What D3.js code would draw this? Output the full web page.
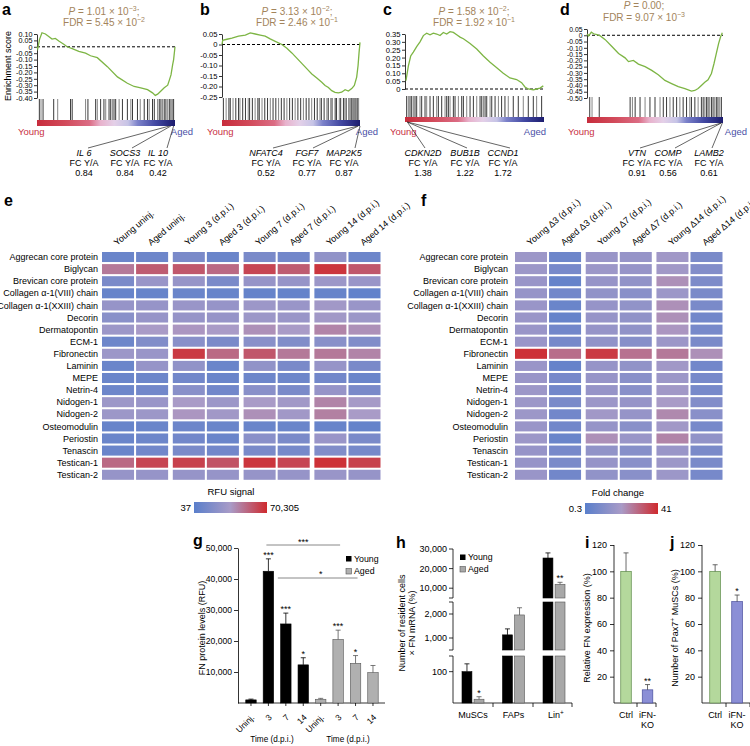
<!DOCTYPE html>
<html><head><meta charset="utf-8">
<script src="https://cdn.jsdelivr.net/npm/d3@7/dist/d3.min.js"></script>
<style>
html,body{margin:0;padding:0;background:#fff;}
svg{display:block;font-family:"Liberation Sans",Arial,Helvetica,sans-serif;}
</style></head><body>
<svg id="fig" width="750" height="746" viewBox="0 0 750 746"></svg>
<script>
// ================= DATA =================
// GSEA running enrichment scores (rank fraction, ES)
const gseaA_rank=[0,0.005,0.019,0.036,0.061,0.085,0.109,0.133,0.158,0.194,0.218,0.255,0.303,0.352,0.388,0.437,0.510,0.583,0.655,0.704,0.752,0.801,0.837,0.857,0.874,0.898,0.922,0.947,0.959,0.971,0.983,0.990,1.0];
const gseaA_es=[0,-0.015,0.06,0.11,0.10,0.08,0.06,0.065,0.045,0.02,0.0,-0.015,-0.035,-0.05,-0.07,-0.085,-0.155,-0.235,-0.285,-0.31,-0.32,-0.335,-0.36,-0.38,-0.37,-0.345,-0.32,-0.30,-0.26,-0.22,-0.14,-0.10,0.0];
const gseaB_rank=[0,0.005,0.036,0.072,0.12,0.169,0.205,0.241,0.277,0.313,0.349,0.386,0.434,0.47,0.506,0.542,0.578,0.614,0.651,0.687,0.723,0.747,0.771,0.795,0.819,0.843,0.867,0.892,0.916,0.94,0.959,0.976,0.986,0.993,1.0];
const gseaB_es=[0,0.02,0.025,0.03,0.04,0.045,0.055,0.05,0.045,0.04,0.027,0.015,0.0,-0.018,-0.04,-0.065,-0.09,-0.115,-0.14,-0.16,-0.18,-0.195,-0.205,-0.22,-0.228,-0.23,-0.227,-0.215,-0.222,-0.21,-0.195,-0.155,-0.1,-0.04,0.01];
const gseaC_rank=[0.007,0.024,0.041,0.06,0.084,0.108,0.132,0.156,0.18,0.204,0.228,0.252,0.276,0.3,0.324,0.348,0.372,0.396,0.42,0.468,0.516,0.564,0.612,0.66,0.707,0.755,0.803,0.839,0.863,0.887,0.923,0.947,0.971,0.995];
const gseaC_es=[0.053,0.145,0.21,0.235,0.27,0.30,0.34,0.355,0.345,0.355,0.35,0.34,0.36,0.35,0.365,0.36,0.345,0.33,0.32,0.29,0.255,0.21,0.17,0.135,0.10,0.07,0.06,0.04,0.013,0.0,-0.005,0.0,0.006,0.02];
const gseaD_rank=[0,0.012,0.032,0.049,0.073,0.098,0.134,0.183,0.232,0.28,0.305,0.341,0.378,0.427,0.476,0.524,0.573,0.622,0.671,0.72,0.768,0.793,0.817,0.841,0.866,0.89,0.915,0.934,0.951,0.968,0.983,0.995];
const gseaD_es=[0.01,-0.005,0.025,0.012,0.005,-0.005,-0.035,-0.09,-0.145,-0.18,-0.21,-0.2,-0.23,-0.25,-0.28,-0.315,-0.36,-0.385,-0.41,-0.425,-0.445,-0.44,-0.425,-0.4,-0.375,-0.355,-0.305,-0.225,-0.145,-0.065,-0.01,0.02];
// gene-set hit positions (rank fraction)
const hitsA=[0.017,0.029,0.044,0.121,0.150,0.243,0.255,0.352,0.369,0.425,0.437,0.461,0.485,0.498,0.522,0.534,0.546,0.558,0.570,0.595,0.619,0.655,0.680,0.692,0.728,0.748,0.777,0.801,0.813,0.837,0.850,0.874,0.886,0.898,0.910,0.922,0.934,0.947,0.959,0.971,0.983,0.990];
const hitsB=[0.01,0.03,0.05,0.06,0.08,0.10,0.12,0.13,0.15,0.17,0.19,0.20,0.22,0.24,0.26,0.27,0.29,0.31,0.33,0.35,0.37,0.39,0.41,0.43,0.45,0.47,0.49,0.51,0.53,0.55,0.57,0.59,0.61,0.63,0.65,0.67,0.69,0.71,0.72,0.74,0.76,0.77,0.79,0.80,0.82,0.83,0.85,0.86,0.88,0.89,0.90,0.92,0.93,0.94,0.95,0.96,0.97,0.98,0.99];
const hitsC=[0.012,0.024,0.036,0.048,0.06,0.072,0.084,0.108,0.12,0.144,0.156,0.18,0.204,0.228,0.24,0.264,0.288,0.3,0.312,0.324,0.348,0.36,0.384,0.408,0.42,0.444,0.468,0.492,0.516,0.54,0.552,0.564,0.576,0.588,0.612,0.624,0.648,0.672,0.695,0.719,0.743,0.779,0.815,0.851,0.887,0.923,0.947,0.983];
const hitsD=[0.02,0.037,0.09,0.317,0.334,0.354,0.39,0.427,0.463,0.5,0.537,0.561,0.585,0.61,0.634,0.659,0.683,0.707,0.732,0.756,0.768,0.793,0.817,0.841,0.854,0.866,0.878,0.89,0.902,0.915,0.927,0.939,0.951,0.963,0.976,0.988];
// leading genes and fold changes Y/A
const genesA=["IL 6","SOCS3","IL 10"], fcA=[0.84,0.84,0.42], gRankA=[0.96,0.97,0.99];
const genesB=["NFATC4","FGF7","MAP2K5"], fcB=[0.52,0.77,0.87], gRankB=[0.983,0.988,1.0];
const genesC=["CDKN2D","BUB1B","CCND1"], fcC=[1.38,1.22,1.72], gRankC=[0.017,0.017,0.017];
const genesD=["VTN","COMP","LAMB2"], fcD=[0.91,0.56,0.61], gRankD=[0.985,0.987,0.995];
// statistics
const statP_mant=["1.01","3.13","1.58","0.00"], statP_exp=[3,2,2,null];
const statFDR_mant=["5.45","2.46","1.92","9.07"], statFDR_exp=[2,1,1,3];

// Heatmaps
const proteins=["Aggrecan core protein","Biglycan","Brevican core protein","Collagen \u03b1-1(VIII) chain","Collagen \u03b1-1(XXIII) chain","Decorin","Dermatopontin","ECM-1","Fibronectin","Laminin","MEPE","Netrin-4","Nidogen-1","Nidogen-2","Osteomodulin","Periostin","Tenascin","Testican-1","Testican-2"];
const colsE=["Young uninj.","Aged uninj.","Young 3 (d.p.i.)","Aged 3 (d.p.i.)","Young 7 (d.p.i.)","Aged 7 (d.p.i.)","Young 14 (d.p.i.)","Aged 14 (d.p.i.)"];
const rfuMatrix=[
[79,91,167,79,167,115,520,91],
[5000,13360,15530,8490,28430,13360,48170,15530],
[167,759,652,167,652,652,881,759],
[68,68,79,68,63,63,68,54],
[652,652,759,652,881,759,1106,759],
[356,652,652,652,881,759,1106,881],
[881,1614,1876,1614,2352,1614,3430,2352],
[91,244,356,167,356,244,356,244],
[881,759,41430,8490,15530,5000,5000,3430],
[79,652,520,79,520,167,652,167],
[79,91,115,79,91,91,115,79],
[91,115,356,115,356,167,652,167],
[881,759,1614,881,1614,1106,3430,1387],
[881,881,1876,1106,2352,1106,3990,1614],
[68,79,91,79,79,79,68,63],
[79,91,115,79,356,167,759,167],
[79,115,167,115,167,144,244,144],
[8490,28430,33040,18070,48170,28430,56070,33040],
[652,652,652,652,652,652,759,652]];
const rfuRange=[37,70305];
const colsF=["Young \u03943 (d.p.i.)","Aged \u03943 (d.p.i.)","Young \u03947 (d.p.i.)","Aged \u03947 (d.p.i.)","Young \u039414 (d.p.i.)","Aged \u039414 (d.p.i.)"];
const foldMatrix=[
[2.37,0.54,2.14,1.95,2.74,0.80],
[2.37,0.73,2.37,1.95,2.74,1.03],
[2.14,0.44,1.95,1.68,4.48,0.89],
[1.95,0.63,1.68,1.31,2.37,0.80],
[2.14,0.49,1.95,1.68,4.48,0.80],
[2.14,0.44,1.95,1.68,4.48,0.63],
[2.14,0.63,1.95,1.68,3.87,0.73],
[2.14,0.73,1.68,1.19,2.37,0.80],
[35.4,9.38,29.1,8.5,7.33,4.48],
[2.14,0.44,1.95,1.68,2.74,0.63],
[2.14,0.73,1.95,1.31,2.37,0.73],
[2.37,0.63,1.95,1.31,2.74,0.73],
[2.37,0.80,2.37,1.95,3.51,1.03],
[2.37,0.63,2.74,1.95,5.2,1.31],
[2.14,0.63,1.95,1.31,2.74,0.73],
[2.37,0.49,4.48,2.14,5.74,1.68],
[1.95,0.73,1.68,1.19,2.14,0.80],
[1.95,0.80,1.95,1.31,2.37,0.80],
[2.14,0.63,1.68,1.31,2.37,0.73]];
const foldRange=[0.3,41];

// Panel g
const gLabels=["Uninj.","3","7","14","Uninj.","3","7","14"];
const gGroup=["Young","Young","Young","Young","Aged","Aged","Aged","Aged"];
const gValues=[1000,42500,25500,12300,1200,20500,12800,9800];
const gErrors=[250,4000,3500,2300,300,3000,2500,2300];
const gSig=["","***","***","*","","***","*",""];
const gTicks=[10000,20000,30000,40000,50000];
// Panel h
const hCats=["MuSCs","FAPs","Lin"];
const hYoung=[100,1130,25400], hYoungErr=[25,250,2600];
const hAged=[12,1960,12000], hAgedErr=[8,300,1000];
const hAgedSig=["*","","**"];
const hTicks=[100,1000,2000,10000,20000,30000];
// Panels i, j
const ijCats=["Ctrl","iFN-KO"];
const iValues=[100,10], iErrors=[14,4], iSig=["","**"];
const jValues=[100,77], jErrors=[5,5], jSig=["","*"];
const ijTicks=[20,40,60,80,100,120];

// ================= DRAW =================
const FONT='"Liberation Sans", Arial, Helvetica, sans-serif';
const svg=d3.select("#fig");
const defs=svg.append("defs");
const statColor="#a3845c", youngCol="#c8303f", agedCol="#4a4fa6";

function styleAxis(sel,fs){
  sel.attr("font-family",FONT).attr("font-size",fs);
  sel.select(".domain").attr("stroke","#000").attr("stroke-width",0.8);
  sel.selectAll(".tick line").attr("stroke","#000").attr("stroke-width",0.8);
  sel.selectAll(".tick text").attr("fill","#000");
}
function panelLabel(t,x,y){svg.append("text").attr("x",x).attr("y",y).attr("font-size",16).attr("font-weight","bold").text(t);}
function star(x,yErrTop,txt){ if(!txt) return; svg.append("text").attr("x",x).attr("y",yErrTop-1).attr("text-anchor","middle").attr("font-size",9).text(txt);}

// ----- GSEA -----
const rg=defs.append("linearGradient").attr("id","rankGrad");
[[0,"#c72c3c"],[0.2,"#d24a5a"],[0.38,"#db6c84"],[0.46,"#e8b2cc"],[0.56,"#e4d0e8"],[0.66,"#c6c4e6"],[0.73,"#7c82ca"],[0.86,"#4248a2"],[1,"#1c1c6e"]]
 .forEach(([o,c])=>rg.append("stop").attr("offset",o).attr("stop-color",c));
const fmtES=v=>Math.abs(v)<1e-9?"0":d3.format(".2f")(v).replace("\u2212","-");

function drawGSEA(L,rank,es,hits,genes,fcs,gRanks,k){
  const x=d3.scaleLinear().domain([0,1]).range([L.x0,L.x1]);
  const y=d3.scaleLinear().domain(L.dom).range([L.y0,L.y1]);
  const tv=d3.range(Math.round(L.dom[0]*100),Math.round(L.dom[1]*100)-1,-5).map(v=>v/100);
  const ax=svg.append("g").attr("transform",`translate(${L.x0},0)`)
    .call(d3.axisLeft(y).tickValues(tv).tickSize(3).tickSizeOuter(0).tickFormat(fmtES).tickPadding(1.5));
  styleAxis(ax,L.fs);
  svg.append("line").attr("x1",L.x0).attr("x2",L.x1).attr("y1",y(0)).attr("y2",y(0))
    .attr("stroke","#000").attr("stroke-width",1).attr("stroke-dasharray","3,2");
  svg.append("path").datum(d3.zip(rank,es)).attr("fill","none").attr("stroke","#7db544").attr("stroke-width",1.3)
    .attr("d",d3.line().x(d=>x(d[0])).y(d=>y(d[1])));
  svg.append("g").selectAll("line").data(hits).join("line")
    .attr("x1",d=>x(d)).attr("x2",d=>x(d)).attr("y1",L.b0).attr("y2",L.b1)
    .attr("stroke",(d,i)=>i%3===1?"#777":"#222").attr("stroke-width",0.9);
  svg.append("rect").attr("x",L.x0).attr("y",L.c0).attr("width",L.x1-L.x0).attr("height",L.c1-L.c0).attr("fill","url(#rankGrad)");
  svg.append("text").attr("x",L.youngX).attr("y",135).attr("font-size",9.5).attr("fill",youngCol).text("Young");
  svg.append("text").attr("x",L.agedX).attr("y",135).attr("font-size",9.5).attr("fill",agedCol).attr("text-anchor","end").text("Aged");
  genes.forEach((gname,i)=>{
    svg.append("line").attr("x1",x(gRanks[i])).attr("y1",L.c1).attr("x2",L.lineEnd[i]).attr("y2",148)
      .attr("stroke","#222").attr("stroke-width",0.7);
    const t=svg.append("text").attr("text-anchor","middle").attr("font-size",9);
    t.append("tspan").attr("x",L.geneX[i]).attr("y",156).attr("font-style","italic").text(gname);
    t.append("tspan").attr("x",L.geneX[i]).attr("y",166).text("FC Y/A");
    t.append("tspan").attr("x",L.geneX[i]).attr("y",176).text(d3.format(".2f")(fcs[i]));
  });
  // stats
  const p=svg.append("text").attr("x",L.pX).attr("y",L.pY).attr("text-anchor","middle").attr("font-size",10).attr("fill",statColor);
  p.append("tspan").attr("font-style","italic").text("P");
  p.append("tspan").text(" = "+statP_mant[k]);
  if(statP_exp[k]!==null){p.append("tspan").text(" \u00d7 10");p.append("tspan").attr("dy",-4).attr("font-size",7).text("\u2212"+statP_exp[k]);p.append("tspan").attr("dy",4).text(";");}
  else p.append("tspan").text(";");
  const f=svg.append("text").attr("x",L.pX).attr("y",L.fY).attr("text-anchor","middle").attr("font-size",10).attr("fill",statColor);
  f.append("tspan").text("FDR = "+statFDR_mant[k]+" \u00d7 10");
  f.append("tspan").attr("dy",-4).attr("font-size",7).text("\u2212"+statFDR_exp[k]);
  panelLabel(L.lab,L.labX,15);
}
drawGSEA({x0:37,x1:175,y0:34,y1:98,dom:[0.10,-0.40],fs:7.2,b0:99,b1:120,c0:120,c1:126,youngX:18,agedX:193,geneX:[84,125,158],lineEnd:[88,132,167],pX:104,pY:15,fY:26,lab:"a",labX:2},gseaA_rank,gseaA_es,hitsA,genesA,fcA,gRankA,0);
drawGSEA({x0:222,x1:360,y0:34,y1:97,dom:[0.05,-0.25],fs:7.6,b0:98,b1:120,c0:120,c1:126,youngX:207,agedX:378,geneX:[266,307,344],lineEnd:[273,313,355],pX:297,pY:15,fY:26,lab:"b",labX:200},gseaB_rank,gseaB_es,hitsB,genesB,fcB,gRankB,1);
drawGSEA({x0:405,x1:544,y0:34,y1:89,dom:[0.35,0],fs:7.6,b0:96,b1:117,c0:117,c1:122,youngX:390,agedX:546,geneX:[423,465,503],lineEnd:[425,467,510],pX:474,pY:15,fY:26,lab:"c",labX:383},gseaC_rank,gseaC_es,hitsC,genesC,fcC,gRankC,2);
drawGSEA({x0:587,x1:723,y0:29,y1:98,dom:[0.05,-0.50],fs:6.8,b0:97,b1:117,c0:117,c1:123,youngX:568,agedX:747,geneX:[637,668,709],lineEnd:[640,675,712],pX:644,pY:9,fY:21,lab:"d",labX:560},gseaD_rank,gseaD_es,hitsD,genesD,fcD,gRankD,3);
svg.append("text").attr("transform","translate(10.5,66) rotate(-90)").attr("text-anchor","middle").attr("font-size",9).text("Enrichment score");

// ----- Heatmaps -----
const heatColors=["#5a7fcb","#a99bc7","#cf2a2e"];
const hg=defs.append("linearGradient").attr("id","heatGrad");
heatColors.forEach((c,i)=>hg.append("stop").attr("offset",i/2).attr("stop-color",c));
function drawHeat(cols,matrix,range,rowLabelX,pairRange,lab,labX,leg){
  const rows=d3.scaleBand().domain(proteins).range([252,479.8]).paddingInner(0.17);
  const nP=cols.length/2;
  const px=d3.scaleBand().domain(d3.range(nP)).range(pairRange).paddingInner(0.066);
  const ix=d3.scaleBand().domain([0,1]).range([0,px.bandwidth()]).paddingInner(0.06);
  const colX=j=>px(Math.floor(j/2))+ix(j%2);
  const color=d3.scaleLog().domain([range[0],Math.sqrt(range[0]*range[1]),range[1]]).range(heatColors).clamp(true);
  const g=svg.append("g");
  proteins.forEach((p,r)=>{
    cols.forEach((c,j)=>{
      g.append("rect").attr("x",colX(j)).attr("y",rows(p)).attr("width",ix.bandwidth()).attr("height",rows.bandwidth())
        .attr("fill",color(matrix[r][j]));
    });
    g.append("text").attr("x",rowLabelX).attr("y",rows(p)+rows.bandwidth()/2).attr("dy","0.35em")
      .attr("text-anchor","end").attr("font-size",9).text(p);
  });
  cols.forEach((c,j)=>{
    const cx=colX(j)+ix.bandwidth()/2-1;
    g.append("text").attr("transform",`translate(${cx},246) rotate(-40)`).attr("font-size",9).text(c);
  });
  panelLabel(lab,labX,206);
  svg.append("text").attr("x",leg.cx).attr("y",leg.ty).attr("text-anchor","middle").attr("font-size",9.5).text(leg.title);
  svg.append("rect").attr("x",leg.x0).attr("y",leg.y0).attr("width",leg.x1-leg.x0).attr("height",11).attr("fill","url(#heatGrad)");
  svg.append("text").attr("x",leg.x0-3).attr("y",leg.y0+9).attr("text-anchor","end").attr("font-size",9.5).text(leg.lo);
  svg.append("text").attr("x",leg.x1+3).attr("y",leg.y0+9).attr("font-size",9.5).text(leg.hi);
}
drawHeat(colsE,rfuMatrix,rfuRange,98,[102,380.5],"e",4,{cx:231,ty:495,title:"RFU signal",x0:194,x1:267,y0:502,lo:d3.format(",")(rfuRange[0]),hi:d3.format(",")(rfuRange[1])});
drawHeat(colsF,foldMatrix,foldRange,508,[515,722.5],"f",421,{cx:618,ty:496,title:"Fold change",x0:585,x1:658,y0:503,lo:String(foldRange[0]),hi:String(foldRange[1])});

// ----- Panel g -----
(function(){
  const y=d3.scaleLinear().domain([0,50000]).range([703,548]);
  const x=d3.scaleBand().domain(d3.range(gValues.length)).range([245.75,378.2]).paddingInner(0.4);
  const ax=svg.append("g").attr("transform","translate(238,0)")
    .call(d3.axisLeft(y).tickValues(gTicks).tickFormat(d3.format(",")).tickSize(4).tickSizeOuter(0).tickPadding(2));
  styleAxis(ax,8.6);
  svg.append("line").attr("x1",238).attr("x2",385).attr("y1",703).attr("y2",703).attr("stroke","#000").attr("stroke-width",0.8);
  gValues.forEach((v,i)=>{
    const cx=x(i)+x.bandwidth()/2, young=gGroup[i]==="Young";
    svg.append("rect").attr("x",x(i)).attr("y",y(v)).attr("width",x.bandwidth()).attr("height",703-y(v))
      .attr("fill",young?"#000":"#b0b0b0").attr("stroke",young?"#000":"#555").attr("stroke-width",0.6);
    const ye=y(v+gErrors[i]);
    svg.append("line").attr("x1",cx).attr("x2",cx).attr("y1",y(v)).attr("y2",ye).attr("stroke",young?"#000":"#555").attr("stroke-width",0.8);
    svg.append("line").attr("x1",cx-2.5).attr("x2",cx+2.5).attr("y1",ye).attr("y2",ye).attr("stroke",young?"#000":"#555").attr("stroke-width",0.8);
    star(cx,ye,gSig[i]);
    svg.append("line").attr("x1",cx).attr("x2",cx).attr("y1",703).attr("y2",706).attr("stroke","#000").attr("stroke-width",0.8);
    svg.append("text").attr("transform",`translate(${cx+4},718) rotate(-45)`).attr("text-anchor","end").attr("font-size",8.5).text(gLabels[i]);
  });
  // brackets
  const c=i=>x(i)+x.bandwidth()/2;
  svg.append("line").attr("x1",c(1)-2).attr("x2",c(5)+2).attr("y1",545).attr("y2",545).attr("stroke","#888").attr("stroke-width",1);
  svg.append("text").attr("x",(c(1)+c(5))/2).attr("y",545).attr("text-anchor","middle").attr("font-size",9).text("***");
  svg.append("line").attr("x1",c(2)-8).attr("x2",c(6)+2).attr("y1",578).attr("y2",578).attr("stroke","#888").attr("stroke-width",1);
  svg.append("text").attr("x",(c(2)+c(6))/2).attr("y",577).attr("text-anchor","middle").attr("font-size",9).text("*");
  // legend
  svg.append("rect").attr("x",346).attr("y",556).attr("width",5.5).attr("height",5.5).attr("fill","#000");
  svg.append("text").attr("x",354).attr("y",561.5).attr("font-size",8.8).text("Young");
  svg.append("rect").attr("x",346).attr("y",568.5).attr("width",5.5).attr("height",5.5).attr("fill","#b0b0b0").attr("stroke","#555").attr("stroke-width",0.6);
  svg.append("text").attr("x",354).attr("y",574).attr("font-size",8.8).text("Aged");
  svg.append("text").attr("transform","translate(205,628) rotate(-90)").attr("text-anchor","middle").attr("font-size",9).text("FN protein levels (RFU)");
  svg.append("text").attr("x",272).attr("y",742).attr("text-anchor","middle").attr("font-size",8.2).text("Time (d.p.i.)");
  svg.append("text").attr("x",348).attr("y",742).attr("text-anchor","middle").attr("font-size",8.2).text("Time (d.p.i.)");
  panelLabel("g",193,546);
})();

// ----- Panel h (broken axis) -----
(function(){
  const segs=[d3.scaleLinear().domain([0,150]).range([703,656]),
              d3.scaleLinear().domain([500,2500]).range([650,602]),
              d3.scaleLinear().domain([5000,30000]).range([598,549])];
  const segOf=v=>v<=150?segs[0]:(v<=2500?segs[1]:segs[2]);
  const gx=d3.scaleBand().domain(hCats).range([462,565]).paddingInner(0.457);
  const ix=d3.scaleBand().domain(["Young","Aged"]).range([0,gx.bandwidth()]).paddingInner(0.18);
  const AX=453;
  segs.forEach(s=>{
    const r=s.range();
    svg.append("line").attr("x1",AX).attr("x2",AX).attr("y1",r[0]).attr("y2",r[1]).attr("stroke","#000").attr("stroke-width",0.8);
    if(r[0]!==703) svg.append("line").attr("x1",AX-4).attr("x2",AX).attr("y1",r[0]).attr("y2",r[0]).attr("stroke","#000").attr("stroke-width",0.8);
    if(r[1]!==549) svg.append("line").attr("x1",AX-4).attr("x2",AX).attr("y1",r[1]).attr("y2",r[1]).attr("stroke","#000").attr("stroke-width",0.8);
  });
  hTicks.forEach(t=>{
    const yy=segOf(t)(t);
    svg.append("line").attr("x1",AX-4).attr("x2",AX).attr("y1",yy).attr("y2",yy).attr("stroke","#000").attr("stroke-width",0.8);
    svg.append("text").attr("x",AX-6).attr("y",yy).attr("dy","0.35em").attr("text-anchor","end").attr("font-size",9).text(d3.format(",")(t));
  });
  svg.append("line").attr("x1",AX).attr("x2",572).attr("y1",703).attr("y2",703).attr("stroke","#000").attr("stroke-width",0.8);
  [493,533,572].forEach(t=>svg.append("line").attr("x1",t).attr("x2",t).attr("y1",703).attr("y2",707).attr("stroke","#000").attr("stroke-width",0.8));
  function bar(x,w,v,err,young,sig){
    segs.forEach(s=>{
      const d=s.domain();
      if(v>d[0]){ const top=s(Math.min(v,d[1])), bot=s.range()[0];
        svg.append("rect").attr("x",x).attr("y",top).attr("width",w).attr("height",bot-top)
          .attr("fill",young?"#000":"#a8a8a8").attr("stroke",young?"#000":"#555").attr("stroke-width",0.6);}
    });
    const s=segOf(v+err), cx=x+w/2, yt=segOf(v)(v), ye=s(v+err);
    svg.append("line").attr("x1",cx).attr("x2",cx).attr("y1",yt).attr("y2",ye).attr("stroke",young?"#000":"#555").attr("stroke-width",0.8);
    svg.append("line").attr("x1",cx-2.5).attr("x2",cx+2.5).attr("y1",ye).attr("y2",ye).attr("stroke",young?"#000":"#555").attr("stroke-width",0.8);
    star(cx,ye,sig);
  }
  hCats.forEach((c,i)=>{
    bar(gx(c)+ix("Young"),ix.bandwidth(),hYoung[i],hYoungErr[i],true,"");
    bar(gx(c)+ix("Aged"),ix.bandwidth(),hAged[i],hAgedErr[i],false,hAgedSig[i]);
    const t=svg.append("text").attr("x",gx(c)+gx.bandwidth()/2+(c==="Lin"?2:0)).attr("y",718).attr("text-anchor","middle").attr("font-size",9);
    t.append("tspan").text(c);
    if(c==="Lin") t.append("tspan").attr("dy",-3.5).attr("font-size",6.5).text("+");
  });
  svg.append("rect").attr("x",460).attr("y",554.5).attr("width",5.5).attr("height",5.5).attr("fill","#000");
  svg.append("text").attr("x",468).attr("y",560).attr("font-size",8.8).text("Young");
  svg.append("rect").attr("x",460).attr("y",566.5).attr("width",5.5).attr("height",5.5).attr("fill","#a8a8a8").attr("stroke","#555").attr("stroke-width",0.6);
  svg.append("text").attr("x",468).attr("y",572).attr("font-size",8.8).text("Aged");
  const yl=svg.append("text").attr("transform","translate(405,623) rotate(-90)").attr("text-anchor","middle").attr("font-size",9);
  yl.append("tspan").attr("x",0).attr("y",0).text("Number of resident cells");
  yl.append("tspan").attr("x",0).attr("y",10).text("\u00d7 FN mRNA (%)");
  panelLabel("h",396,548);
})();

// ----- Panels i, j -----
function drawIJ(AX,xEnd,midTick,rangeX,vals,errs,sig,ylab,lab,labX,ylX,supPlus){
  const y=d3.scaleLinear().domain([0,120]).range([703,545]);
  const x=d3.scaleBand().domain(ijCats).range(rangeX).paddingInner(0.51);
  const ax=svg.append("g").attr("transform",`translate(${AX},0)`)
    .call(d3.axisLeft(y).tickValues(ijTicks).tickSize(4).tickSizeOuter(0));
  styleAxis(ax,9);
  ax.select(".domain").attr("d",`M0,703V545`);
  svg.append("line").attr("x1",AX).attr("x2",xEnd).attr("y1",703).attr("y2",703).attr("stroke","#000").attr("stroke-width",0.8);
  [midTick,xEnd].forEach(t=>svg.append("line").attr("x1",t).attr("x2",t).attr("y1",703).attr("y2",707).attr("stroke","#000").attr("stroke-width",0.8));
  const fills=["#b4d89c","#8b8fd6"], strokes=["#5f8c4a","#4a4f9e"];
  ijCats.forEach((c,i)=>{
    const cx=x(c)+x.bandwidth()/2;
    svg.append("rect").attr("x",x(c)).attr("y",y(vals[i])).attr("width",x.bandwidth()).attr("height",703-y(vals[i]))
      .attr("fill",fills[i]).attr("stroke",strokes[i]).attr("stroke-width",0.7);
    const ye=y(vals[i]+errs[i]);
    svg.append("line").attr("x1",cx).attr("x2",cx).attr("y1",y(vals[i])).attr("y2",ye).attr("stroke","#444").attr("stroke-width",0.8);
    svg.append("line").attr("x1",cx-2.5).attr("x2",cx+2.5).attr("y1",ye).attr("y2",ye).attr("stroke","#444").attr("stroke-width",0.8);
    star(cx,ye,sig[i]);
    const parts=c.split("-");
    if(parts.length>1){
      svg.append("text").attr("x",cx).attr("y",718).attr("text-anchor","middle").attr("font-size",9).text(parts[0]+"-");
      svg.append("text").attr("x",cx).attr("y",728).attr("text-anchor","middle").attr("font-size",9).text(parts[1]);
    } else svg.append("text").attr("x",cx).attr("y",718).attr("text-anchor","middle").attr("font-size",9).text(c);
  });
  const t=svg.append("text").attr("transform",`translate(${ylX},628) rotate(-90)`).attr("text-anchor","middle").attr("font-size",9);
  if(supPlus){ t.append("tspan").text(ylab[0]); t.append("tspan").attr("dy",-3.5).attr("font-size",6.5).text("+"); t.append("tspan").attr("dy",3.5).text(ylab[1]); }
  else t.text(ylab[0]);
  panelLabel(lab,labX,548);
}
drawIJ(614,656,637,[620.75,652.8],iValues,iErrors,iSig,["Relative FN expression (%)"],"i",585,590,false);
drawIJ(702,750,726,[709.75,742.5],jValues,jErrors,jSig,["Number of Pax7"," MuSCs (%)"],"j",670,678,true);
</script></body></html>
